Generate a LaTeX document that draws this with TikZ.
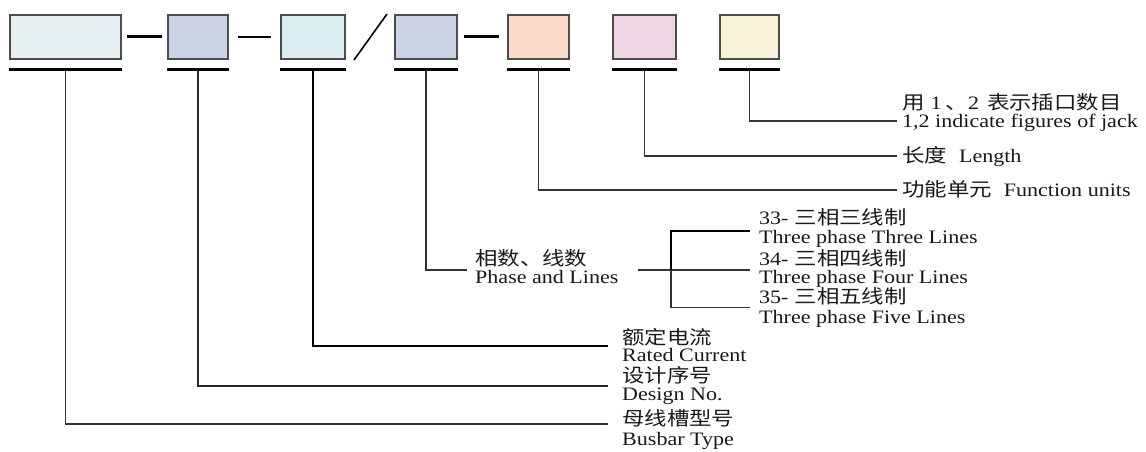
\documentclass[tikz,border=0pt]{standalone}
\usepackage{fontspec}
\setmainfont{Liberation Serif}[FakeStretch=1.16]
\newfontfamily\cjk{Noto Sans CJK SC}[FakeStretch=1.18]
\newcommand\zhtext[1]{{\cjk\fontsize{19}{21}\selectfont #1}}
\definecolor{colBusbar}{HTML}{E8F0F3}
\definecolor{colDesign}{HTML}{CBD3E6}
\definecolor{colRated}{HTML}{DCEDF1}
\definecolor{colPhase}{HTML}{CBD3E6}
\definecolor{colFunc}{HTML}{FAD9C8}
\definecolor{colLength}{HTML}{F2D5E4}
\definecolor{colJack}{HTML}{FAF3D8}
\begin{document}
\begin{tikzpicture}[
    x=1pt, y=-1pt,
    cell/.style={draw=black!70, line width=2pt, minimum height=44pt, inner sep=0pt},
    bar/.style={line width=3pt},
    link/.style={line width=3pt},
    lead/.style={line width=1.3pt, draw=black!80},
    en/.style={anchor=west, inner sep=0pt, text height=13.3pt, text depth=0pt, text=black!90, font=\fontsize{19}{21}\selectfont},
    cn/.style={anchor=west, inner sep=0pt, text height=14.8pt, text depth=0pt, text=black!90, font=\cjk\fontsize{19}{21}\selectfont}
]
    \useasboundingbox (0,0) rectangle (1146,452);
    \foreach \n/\cx/\w/\col in {1/65.5/111/colBusbar, 2/198/60/colDesign, 3/313/64/colRated,
        4/426/62/colPhase, 5/538.5/61/colFunc, 6/644.5/63/colLength, 7/749.5/59/colJack} {
        \node[cell, fill=\col, minimum width=\w pt] (b\n) at (\cx,37) {};
        \draw[bar] ([yshift=-10pt]b\n.south west) -- ([yshift=-10pt]b\n.south east);
        \coordinate (t\n) at ([yshift=-10pt]b\n.south);
    }
    \draw[link] ([xshift=5pt]b1.east) -- ([xshift=-5pt]b2.west);
    \draw[lead, line width=1.6pt, draw=black] ([xshift=9pt]b2.east) -- ([xshift=-9pt]b3.west);
    \draw[lead, line width=1.6pt, draw=black] ([xshift=8pt]b3.south east) -- ([xshift=-7pt]b4.north west);
    \draw[link] ([xshift=6pt]b4.east) -- ([xshift=-8pt]b5.west);

    \node[cn] (jackC) at (902,102) {用\hspace{6pt}{\rmfamily 1}\hspace{4pt}、{\rmfamily 2}\hspace{8pt}表示插口数目};
    \node[en] (jackE) at (902,121) {1,2 indicate figures of jack};
    \node[en] (lengthE) at (902,156) {\zhtext{长度}\hspace{12pt}Length};
    \node[en] (funcE) at (902,190) {\zhtext{功能单元}\hspace{12pt}Function units};
    \node[cn] (phaseC) at (475,258) {相数、线数};
    \node[en] (phaseE) at (475,277) {Phase and Lines};
    \node[en] (threeC) at (759,218) {33-\hspace{6pt}\zhtext{三相三线制}};
    \node[en] (threeE) at (759,237) {Three phase Three Lines};
    \node[en] (fourC) at (759,259) {34-\hspace{6pt}\zhtext{三相四线制}};
    \node[en] (fourE) at (759,277) {Three phase Four Lines};
    \node[en] (fiveC) at (759,297) {35-\hspace{6pt}\zhtext{三相五线制}};
    \node[en] (fiveE) at (759,317) {Three phase Five Lines};
    \node[cn] (ratedC) at (622,337) {额定电流};
    \node[en] (ratedE) at (622,355) {Rated Current};
    \node[cn] (designC) at (622,375) {设计序号};
    \node[en] (designE) at (622,394) {Design No.};
    \node[cn] (busbarC) at (622,418) {母线槽型号};
    \node[en] (busbarE) at (622,439) {Busbar Type};

    \draw[lead] (t7) |- ([xshift=-5pt]jackE.west);
    \draw[lead] (t6) |- ([xshift=-5pt]lengthE.west);
    \draw[lead] (t5) |- ([xshift=-5pt]funcE.west);
    \draw[lead] (t4) |- ([xshift=-8pt,yshift=-12pt]phaseC.west);
    \coordinate (fork) at (671,270);
    \draw[lead] ([xshift=-33pt]fork) -- ([xshift=-9pt]fourE.west |- fork);
    \draw[lead, line width=2.2pt, draw=black] ([xshift=-9pt,yshift=-1pt]threeE.north west) -| (fork);
    \draw[lead] (fork) |- ([xshift=-9pt,yshift=3pt]fiveE.north west);
    \draw[lead, line width=2.2pt, draw=black] (t3) |- ([xshift=-14pt,yshift=-9pt]ratedC.west);
    \draw[lead, draw=black!85] (t2) |- ([xshift=-14pt,yshift=-11pt]designC.west);
    \draw[lead] (t1) |- ([xshift=-14pt,yshift=-6pt]busbarC.west);
\end{tikzpicture}
\end{document}
